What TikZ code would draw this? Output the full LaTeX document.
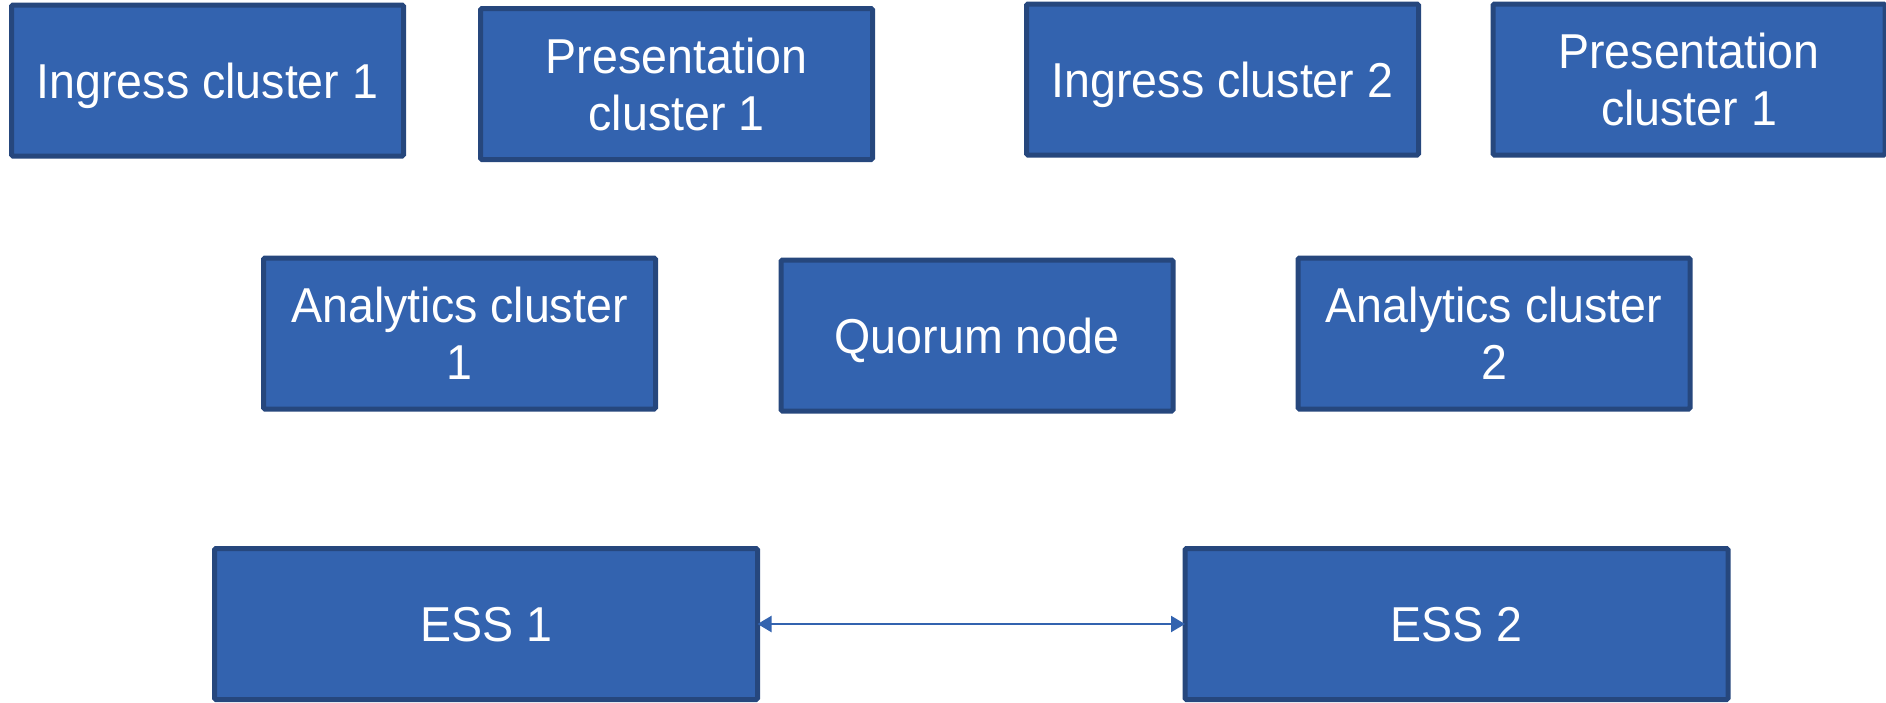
\documentclass[tikz,border=0pt]{standalone}
\usepackage{fontspec}
\setmainfont[FakeStretch=0.95]{Liberation Sans}
\usetikzlibrary{arrows.meta}
\definecolor{boxfill}{RGB}{51,99,175}
\definecolor{boxline}{RGB}{38,71,125}
\tikzset{
  cbox/.style={draw=boxline, fill=boxfill, line width=5pt, rounded corners=1.5pt,
    text=white, align=center, inner sep=0pt, minimum width=392pt, minimum height=151pt,
    text depth=0pt, font=\fontsize{49}{57}\selectfont},
  wbox/.style={cbox, minimum width=543pt},
  link/.style={draw=boxfill, line width=2.2pt, {Triangle[length=14pt,width=16pt]}-{Triangle[length=14pt,width=16pt]}}
}
\begin{document}
\begin{tikzpicture}[x=1pt,y=-1pt]
\useasboundingbox (0,0) rectangle (1886,702);
\node[cbox] (ing1) at (207.5,80.5) {Ingress cluster 1};
\node[cbox] (pres1) at (676.5,84) {Presentation\\cluster 1};
\node[cbox] (ing2) at (1222.5,79.5) {Ingress cluster 2};
\node[cbox] (pres2) at (1689,79.5) {Presentation\\cluster 1};
\node[cbox] (an1) at (459.5,333.5) {Analytics cluster\\1};
\node[cbox] (quorum) at (977,335.5) {Quorum node};
\node[cbox] (an2) at (1494,333.5) {Analytics cluster\\2};
\node[wbox] (ess1) at (486,624) {ESS 1};
\node[wbox] (ess2) at (1456.5,624) {ESS 2};
\draw[link, shorten <=-2.5pt, shorten >=-2.5pt] (ess1.east) -- (ess2.west);
\end{tikzpicture}
\end{document}
